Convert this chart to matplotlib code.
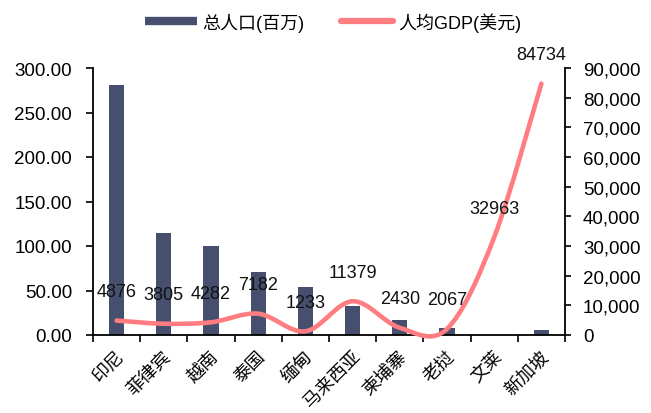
import matplotlib
matplotlib.use("Agg")
import matplotlib.pyplot as plt
from matplotlib.path import Path
from matplotlib.patches import PathPatch
from matplotlib.lines import Line2D
from matplotlib.ticker import FuncFormatter, FixedLocator
import matplotlib.transforms as mtransforms
import numpy as np

plt.rcParams['font.family'] = ['Liberation Sans', 'Noto Sans CJK SC', 'DejaVu Sans']

countries = ['印尼', '菲律宾', '越南', '泰国', '缅甸', '马来西亚', '柬埔寨', '老挝', '文莱', '新加坡']
population = [281, 115, 100, 71, 54, 33, 17, 7.5, 0.45, 5.9]
gdp_per_capita = [4876, 3805, 4282, 7182, 1233, 11379, 2430, 2067, 32963, 84734]
legend_labels = ['总人口(百万)', '人均GDP(美元)']

bar_color = '#46506e'
line_color = '#ff7c80'

fig = plt.figure(figsize=(6.51, 4.14), dpi=100)
ax = fig.add_axes([93/651, 78/414, (565-93)/651, (336-69)/414])
ax2 = ax.twinx()

x = np.arange(len(countries))
ax.bar(x, population, width=0.32, color=bar_color, zorder=2)
ax.set_xlim(-0.5, len(countries) - 0.5)
ax.set_ylim(0, 300)
ax.set_yticks(np.arange(0, 301, 50))
ax.yaxis.set_major_formatter(FuncFormatter(lambda v, p: f'{v:.2f}'))

ax2.set_ylim(0, 90000)
ax2.set_yticks(np.arange(0, 90001, 10000))
ax2.yaxis.set_major_formatter(FuncFormatter(lambda v, p: f'{int(v):,}'))

# smooth curve (Excel-like Catmull-Rom bezier)
pts = np.column_stack([x, np.array(gdp_per_capita, dtype=float)])
n = len(pts)
verts = [tuple(pts[0])]
codes = [Path.MOVETO]
for i in range(n - 1):
    p0 = pts[i - 1] if i > 0 else pts[i]
    p1 = pts[i]
    p2 = pts[i + 1]
    p3 = pts[i + 2] if i + 2 < n else pts[i + 1]
    c1 = p1 + (p2 - p0) / 6.0
    c2 = p2 - (p3 - p1) / 6.0
    verts += [tuple(c1), tuple(c2), tuple(p2)]
    codes += [Path.CURVE4] * 3
path = Path(verts, codes)
patch = PathPatch(path, facecolor='none', edgecolor=line_color, lw=3.3,
                  capstyle='round', joinstyle='round', zorder=3, clip_on=False)
ax2.add_patch(patch)

for xi, v in zip(x, gdp_per_capita):
    ax2.annotate(f'{v}', (xi, v), xytext=(0, 21), textcoords='offset points',
                 ha='center', va='center', fontsize=13, color='#111111',
                 annotation_clip=False)

# category ticks between categories
ax.set_xticks(x)
ax.set_xticklabels(countries, rotation=45, ha='right', rotation_mode='anchor',
                   fontsize=13)
ax.tick_params(axis='x', which='major', length=0, pad=9)
offset = mtransforms.ScaledTranslation(-1/100, 0, fig.dpi_scale_trans)
for lab in ax.get_xticklabels():
    lab.set_transform(lab.get_transform() + offset)
ax.xaxis.set_minor_locator(FixedLocator(np.arange(-0.5, len(countries), 1.0)))
ax.tick_params(axis='x', which='minor', length=5, width=1.2, direction='out')

ax.tick_params(axis='y', length=5, width=1.2, labelsize=13.5, pad=10)
ax2.tick_params(axis='y', length=4, width=1.2, labelsize=13.5, pad=9)

for a in (ax, ax2):
    a.spines['top'].set_visible(False)
    for s in ('left', 'right', 'bottom'):
        a.spines[s].set_linewidth(1.3)
        a.spines[s].set_color('black')
ax.spines['right'].set_visible(False)
ax2.spines['left'].set_visible(False)
ax2.spines['bottom'].set_visible(False)

handles = [Line2D([0], [0], color=bar_color, lw=6, solid_capstyle='butt'),
           Line2D([0], [0], color=line_color, lw=4.5, solid_capstyle='round')]
fig.legend(handles, legend_labels, loc='center', bbox_to_anchor=(0.512, 0.945),
           ncol=2, frameon=False, fontsize=13, handlelength=2.9,
           handletextpad=0.3, columnspacing=2.0)

fig.savefig('out.png', dpi=100)
